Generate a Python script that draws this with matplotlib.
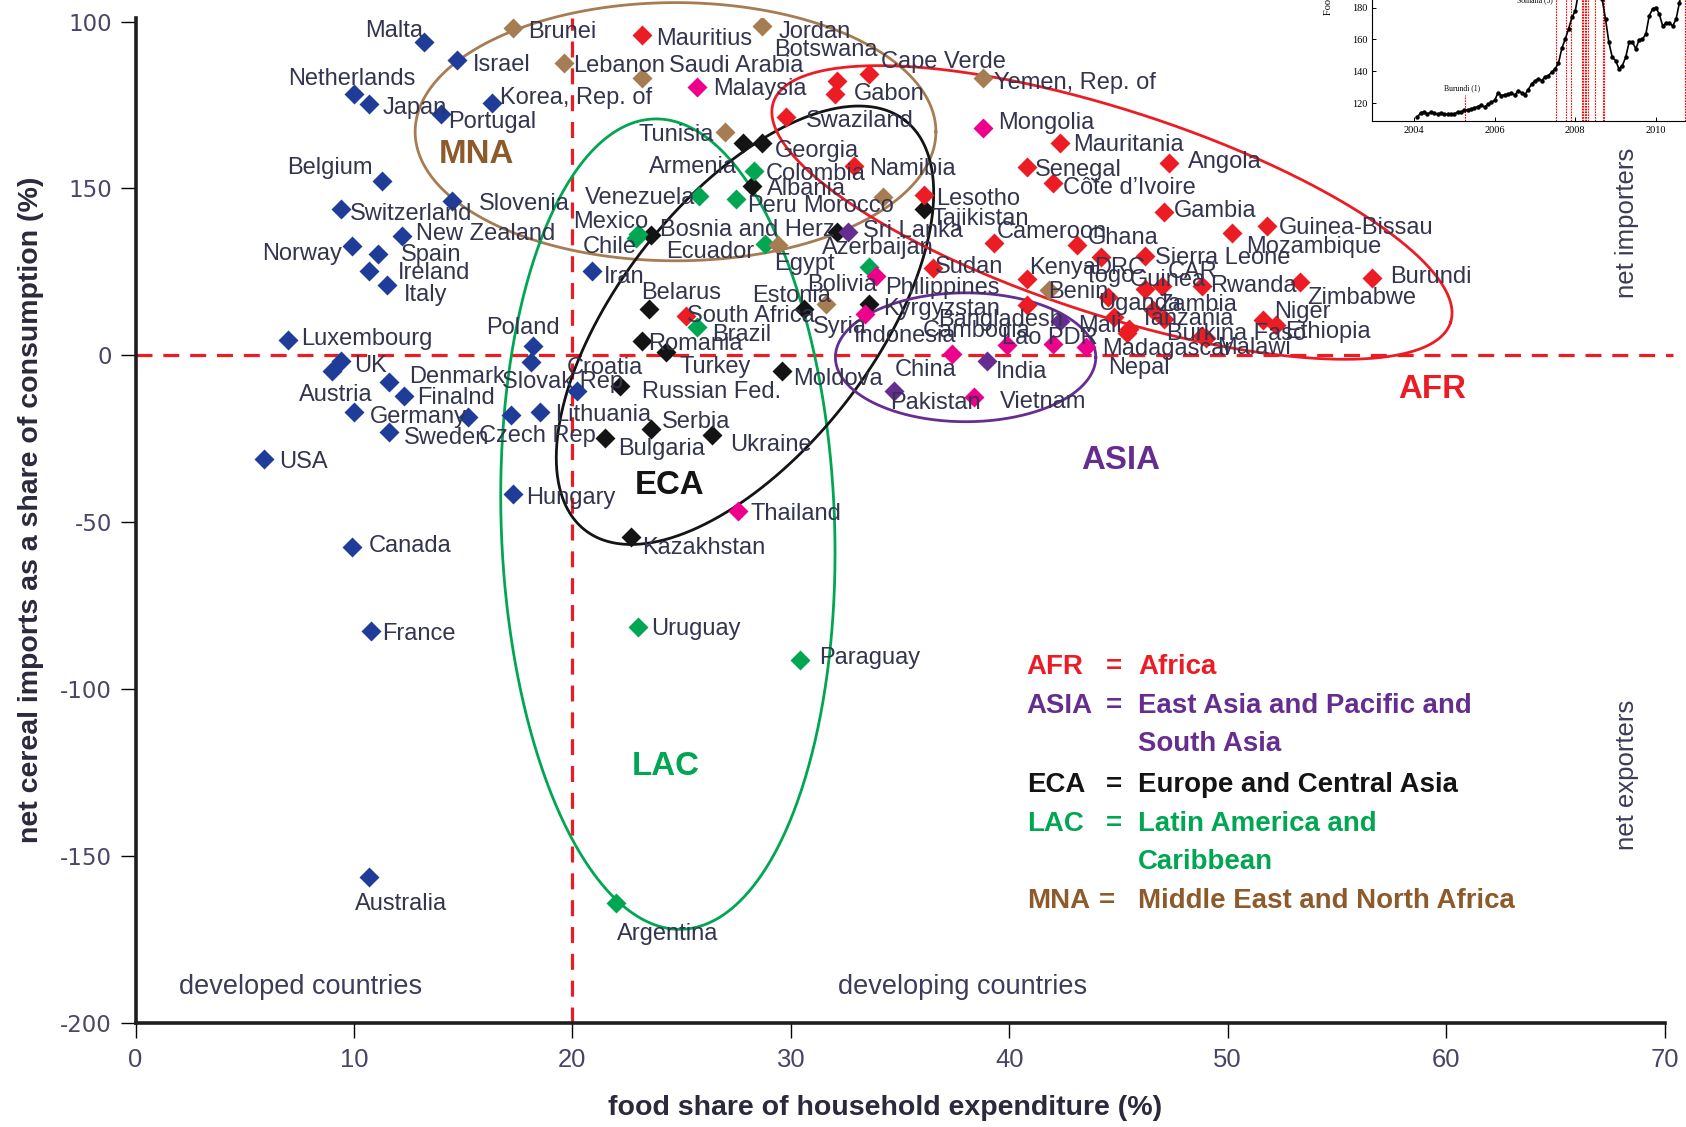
"""
Food share of household expenditure vs. net cereal imports, by region,
with the food price index inset cut at the top right corner.
Output: out.png
"""
import numpy as np
import matplotlib.pyplot as plt
from matplotlib import font_manager

# ---------------------------------------------------------------- data
# x = food share of household expenditure (%), y = net cereal imports (% of consumption)
DEV_NAMES = ["Malta", "Israel", "Netherlands", "Japan", "Korea, Rep. of", "Portugal",
             "Belgium", "Slovenia", "Switzerland", "New Zealand", "Norway", "Spain",
             "Ireland", "Italy", "Iran", "Luxembourg", "Poland", "Slovak Rep", "Croatia",
             "UK", "Austria", "Denmark", "Finalnd", "Germany", "Sweden", "Czech Rep",
             "Latvia", "Lithuania", "USA", "Hungary", "Canada", "France", "Australia"]
DEV_X = [13.2, 14.7, 10.0, 10.7, 16.3, 14.0, 11.3, 14.5, 9.4, 12.2, 9.9, 11.1, 10.7, 11.5,
         20.9, 7.0, 18.2, 18.1, 20.2, 9.4, 9.0, 11.6, 12.3, 10.0, 11.6, 15.2, 17.2, 18.5,
         5.9, 17.3, 9.9, 10.8, 10.7]
DEV_Y = [93.8, 88.6, 78.4, 75.4, 75.5, 72.3, 52.1, 46.2, 43.8, 35.8, 32.8, 30.4, 25.4, 21.2,
         25.4, 4.7, 2.9, -2.1, -10.6, -1.6, -4.6, -8.1, -12.2, -17.1, -23.1, -18.4, -18.0,
         -17.1, -31.1, -41.5, -57.4, -82.5, -156.3]

ECA_NAMES = ["Armenia", "Georgia", "Albania", "Bosnia and Herz", "Azerbaijan", "Tajikistan",
             "Belarus", "Estonia", "Kyrgyzstan", "Romania", "Turkey", "Russian Fed.",
             "Moldova", "Serbia", "Bulgaria", "Ukraine", "Kazakhstan"]
ECA_X = [27.8, 28.7, 28.2, 23.6, 32.1, 36.1, 23.5, 30.6, 33.6, 23.2, 24.3, 22.2, 29.6,
         23.6, 21.5, 26.4, 22.7]
ECA_Y = [63.7, 63.7, 50.8, 35.9, 37.0, 43.7, 13.9, 14.0, 15.4, 4.4, 0.9, -9.3, -4.6,
         -22.1, -24.7, -24.0, -54.5]

LAC_NAMES = ["Colombia", "Venezuela", "Peru", "Mexico", "Chile", "Ecuador", "Bolivia",
             "Brazil", "Uruguay", "Paraguay", "Argentina"]
LAC_X = [28.3, 25.8, 27.5, 23.0, 22.9, 28.8, 33.6, 25.7, 23.0, 30.4, 22.0]
LAC_Y = [55.2, 47.6, 46.8, 36.4, 35.1, 33.4, 26.6, 8.4, -81.3, -91.3, -164.2]

MNA_NAMES = ["Brunei", "Lebanon", "Saudi Arabia", "Jordan", "Tunisia", "Morocco", "Egypt",
             "Syria", "Yemen, Rep. of", "Djibouti"]
MNA_X = [17.3, 19.6, 23.2, 28.7, 27.0, 34.2, 29.4, 31.6, 38.8, 41.8]
MNA_Y = [98.1, 87.5, 83.0, 98.8, 66.8, 47.4, 32.9, 15.3, 83.0, 19.5]

AFR_NAMES = ["Mauritius", "Cape Verde", "Botswana", "Gabon", "Swaziland", "Namibia",
             "Lesotho", "Sudan", "South Africa", "Mauritania", "Senegal", "Côte d’Ivoire",
             "Angola", "Gambia", "Mozambique", "Guinea-Bissau", "Cameroon", "Ghana", "DRC",
             "Sierra Leone", "Kenya", "Benin", "Togo", "Guinea", "CAR", "Rwanda",
             "Zimbabwe", "Burundi", "Zambia", "Tanzania", "Uganda", "Mali", "Madagascar",
             "Burkina Faso", "Malawi", "Niger", "Ethiopia"]
AFR_X = [23.2, 33.6, 32.1, 32.0, 29.8, 32.9, 36.1, 36.5, 25.2, 42.3, 40.8, 42.0, 47.3,
         47.1, 50.2, 51.8, 39.3, 43.1, 44.2, 46.2, 40.8, 40.8, 44.5, 46.2, 47.0, 48.8,
         53.3, 56.6, 46.6, 47.1, 44.8, 45.5, 45.4, 48.8, 49.0, 51.6, 52.2]
AFR_Y = [96.0, 84.4, 82.3, 78.3, 71.3, 56.8, 47.9, 26.3, 11.9, 63.5, 56.3, 51.5, 57.5,
         42.8, 36.7, 38.7, 33.5, 33.0, 29.4, 29.9, 22.9, 15.1, 17.4, 19.9, 20.9, 20.9,
         21.9, 23.2, 13.7, 11.0, 11.4, 7.8, 6.8, 5.9, 5.2, 10.6, 9.2]

EAP_NAMES = ["Malaysia", "Mongolia", "Philippines", "Indonesia", "China", "Cambodia",
             "Lao PDR", "Nepal", "Vietnam", "Thailand"]
EAP_X = [25.7, 38.8, 33.9, 33.4, 37.4, 39.9, 42.0, 43.5, 38.4, 27.6]
EAP_Y = [80.3, 68.1, 23.9, 12.4, 0.5, 3.1, 3.4, 2.4, -12.6, -46.7]

SAS_NAMES = ["Sri Lanka", "Bangladesh", "India", "Pakistan"]
SAS_X = [32.6, 42.3, 39.0, 34.7]
SAS_Y = [37.0, 10.4, -1.8, -10.6]

Y_TICKS = [100, 50, 0, -50, -100, -150, -200]
Y_TICK_LABELS = ["100", "150", "0", "-50", "-100", "-150", "-200"]  # as printed
X_TICKS = [0, 10, 20, 30, 40, 50, 60, 70]

LEGEND_ABBR = ["AFR", "ASIA", "", "ECA", "LAC", "", "MNA"]
LEGEND_TEXT = ["Africa", "East Asia and Pacific and", "South Asia",
               "Europe and Central Asia", "Latin America and", "Caribbean",
               "Middle East and North Africa"]

# food price index inset (monthly, Feb 2004 - Sep 2010)
FPI_VALUES = [111.2, 114.0, 114.4, 113.3, 114.4, 113.8, 113.0, 113.8, 113.0, 112.9, 113.3,
              113.3, 114.4, 114.6, 115.4, 115.8, 116.5, 117.0, 117.9, 118.8, 117.5, 119.2, 120.5,
              121.7, 126.5, 124.8, 125.3, 125.8, 126.3, 125.0, 127.9, 126.5, 125.3, 128.5, 132.1,
              134.0, 135.2, 134.2, 136.5, 137.3, 139.5, 141.5, 145.2, 154.4, 160.2, 166.5, 173.8,
              177.9, 190.0, 205.0, 212.0, 215.0, 223.0, 218.0, 200.0, 185.2, 172.7, 158.1, 148.8,
              146.7, 141.5, 143.5, 148.8, 158.1, 158.5, 154.0, 159.8, 160.2, 163.3, 174.8, 179.0,
              180.0, 175.8, 168.5, 170.2, 170.2, 168.5, 172.7, 183.1, 195.0]
FPI_YEARS = [2004 + (i + 1) / 12 for i in range(len(FPI_VALUES))]
RIOT_YEARS = [2007.52, 2007.78, 2007.90, 2008.16, 2008.20, 2008.24, 2008.27, 2008.32,
              2008.49, 2008.68, 2008.70, 2010.71]
BURUNDI_YEAR = 2005.27

# ---------------------------------------------------------------- style
RED, BLUE, GREEN, BROWN = "#ec1c24", "#1f3c98", "#00a651", "#a67c52"
BLACK, MAGENTA, PURPLE = "#141414", "#ec008c", "#662d91"
TXT = "#33344e"

fonts = {f.name for f in font_manager.fontManager.ttflist}
HAS_NARROW = "Liberation Sans Narrow" in fonts
NARROW = ["Liberation Sans Narrow", "Liberation Sans", "DejaVu Sans"]
NS = 1.0 if HAS_NARROW else 0.82   # shrink if no condensed face

plt.rcParams["font.family"] = ["Liberation Sans", "DejaVu Sans"]

# label offsets from the marker, in reference pixels (dx right, dy down)
LABEL_OFFSETS = {
    "Malta": (-55, -13), "Israel": (15, 3), "Netherlands": (-61, -16), "Japan": (12, 2),
    "Korea, Rep. of": (8, -7), "Portugal": (6, 5), "Belgium": (-89, -15), "Slovenia": (25, 0),
    "Switzerland": (8, 2), "New Zealand": (13, -4), "Norway": (-83, 5), "Spain": (21, -1),
    "Ireland": (27, 0), "Italy": (16, 7), "Iran": (11, 4), "Luxembourg": (12, -3),
    "Poland": (-44, -19), "Slovak Rep": (-27, 16), "Croatia": (-9, -23), "UK": (12, 3),
    "Austria": (-31, 20), "Denmark": (19, -7), "Finalnd": (12, 0), "Germany": (15, 2),
    "Sweden": (14, 3), "Czech Rep": (11, 16), "Lithuania": (14, 0), "USA": (14, 0),
    "Hungary": (12, 2), "Canada": (16, -3), "France": (10, 1), "Australia": (-13, 23),
    "Armenia": (-87, 20), "Georgia": (12, 5), "Albania": (14, 1), "Bosnia and Herz": (8, -7),
    "Azerbaijan": (-14, 13), "Tajikistan": (7, 7), "Belarus": (-7, -17), "Estonia": (-48, -14),
    "Kyrgyzstan": (13, 2), "Romania": (5, 1), "Turkey": (12, 11), "Russian Fed.": (20, 3),
    "Moldova": (10, 5), "Serbia": (10, -9), "Bulgaria": (12, 8), "Ukraine": (17, 7),
    "Kazakhstan": (10, 8),
    "Colombia": (11, 0), "Venezuela": (-106, -1), "Peru": (10, 4), "Mexico": (-60, -13),
    "Chile": (-49, 6), "Ecuador": (-92, 5), "Bolivia": (-58, 15), "Brazil": (14, 5),
    "Uruguay": (12, 0), "Paraguay": (18, -4), "Argentina": (1, 26),
    "Brunei": (14, 1), "Lebanon": (9, 0), "Saudi Arabia": (25, -14), "Jordan": (15, 4),
    "Tunisia": (-81, 0), "Morocco": (-74, 6), "Egypt": (-3, 15), "Syria": (-12, 19),
    "Yemen, Rep. of": (10, 2),
    "Mauritius": (13, 1), "Botswana": (-58, -31), "Cape Verde": (11, -13), "Gabon": (18, -2),
    "Swaziland": (18, 1), "Namibia": (14, 1), "Lesotho": (11, 1), "Sudan": (2, -3),
    "South Africa": (1, -2), "Mauritania": (13, -1), "Senegal": (8, 0),
    "Côte d’Ivoire": (9, 2), "Angola": (18, -4), "Gambia": (9, -4), "Guinea-Bissau": (11, -1),
    "Mozambique": (13, 11), "Cameroon": (3, -13), "Ghana": (10, -9), "Kenya": (2, -12),
    "DRC": (-6, 8), "Sierra Leone": (10, 0), "Benin": (20, -14), "Togo": (-22, -22),
    "Guinea": (-14, -11), "CAR": (5, -15), "Rwanda": (8, -2), "Zimbabwe": (7, 12),
    "Burundi": (17, -3), "Zambia": (4, -7), "Tanzania": (-23, -2), "Uganda": (-15, -15),
    "Mali": (-48, -5), "Madagascar": (-23, 13), "Burkina Faso": (-32, -4), "Malawi": (10, 7),
    "Niger": (11, -10), "Ethiopia": (9, 5),
    "Malaysia": (15, -1), "Mongolia": (14, -7), "Philippines": (8, 9), "Indonesia": (-10, 18),
    "China": (-54, 13), "Cambodia": (-78, -15), "Lao PDR": (-47, -8), "Nepal": (21, 17),
    "Vietnam": (24, 2), "Thailand": (11, 0),
    "Sri Lanka": (14, -3), "Bangladesh": (-113, -3), "India": (8, 8), "Pakistan": (-3, 9),
}

# group ellipses: centre (data), semi-axes in x units (drawn isotropically), angle in degrees
ELLIPSES = [
    (24.72, 67.0, 11.92, 5.91, 0, BROWN),    # MNA
    (24.37, -50.6, 7.63, 18.56, 2, GREEN),   # LAC
    (27.9, 9.0, 11.9, 5.81, 52, BLACK),      # ECA
    (44.7, 42.8, 16.3, 4.68, -18, RED),      # AFR
    (38.0, -0.6, 5.96, 2.95, 0, PURPLE),     # ASIA
]

# ---------------------------------------------------------------- figure
W, H = 16.86, 11.27
fig = plt.figure(figsize=(W, H), dpi=100)
AX_POS = [0.0804, 0.0926, 0.9069, 0.8912]
ax = fig.add_axes(AX_POS)
XLIM, YLIM = (0, 70), (-200, 101)
ax.set_xlim(*XLIM)
ax.set_ylim(*YLIM)

for s in ["top", "right"]:
    ax.spines[s].set_visible(False)
for s in ["left", "bottom"]:
    ax.spines[s].set_linewidth(2.6)
    ax.spines[s].set_color("#1e1e1e")

ax.set_xticks(X_TICKS)
ax.set_yticks(Y_TICKS)
ax.set_yticklabels(Y_TICK_LABELS)
ax.tick_params(axis="x", length=11, width=1.0, pad=7, labelsize=22.5 * NS, labelcolor="#474466")
ax.tick_params(axis="y", length=11, width=1.0, pad=6, labelsize=16.5, labelcolor="#4b4668")
for lab in ax.get_xticklabels():
    lab.set_family(NARROW)
for lab in ax.get_yticklabels():
    lab.set_family("DejaVu Sans")

# threshold lines
dash = (0, (5, 3.4))
ax.plot([20, 20], [YLIM[0], YLIM[1]], color=RED, lw=2.3, ls=dash, zorder=1)
ax.plot([0, 70.4], [0, 0], color=RED, lw=2.3, ls=dash, zorder=1, clip_on=False)

# ellipses drawn with equal pixel scaling on both axes
ax_w = AX_POS[2] * W * 100
ax_h = AX_POS[3] * H * 100
k = (ax_h / (YLIM[1] - YLIM[0])) / (ax_w / (XLIM[1] - XLIM[0]))
t = np.linspace(0, 2 * np.pi, 500)
for cx, cy, a, b, ang, col in ELLIPSES:
    th = np.deg2rad(ang)
    ex = a * np.cos(t) * np.cos(th) - b * np.sin(t) * np.sin(th)
    ey = a * np.cos(t) * np.sin(th) + b * np.sin(t) * np.cos(th)
    ax.plot(cx + ex, cy + ey / k, color=col, lw=2.0, zorder=2, clip_on=False)

# markers + labels
groups = [
    (DEV_NAMES, DEV_X, DEV_Y, BLUE),
    (ECA_NAMES, ECA_X, ECA_Y, BLACK),
    (LAC_NAMES, LAC_X, LAC_Y, GREEN),
    (MNA_NAMES, MNA_X, MNA_Y, BROWN),
    (AFR_NAMES, AFR_X, AFR_Y, RED),
    (EAP_NAMES, EAP_X, EAP_Y, MAGENTA),
    (SAS_NAMES, SAS_X, SAS_Y, PURPLE),
]
PX = 1686 / 1568
for names, xs, ys, col in groups:
    ax.plot(xs, ys, ls="none", marker="D", ms=10, color=col, mec="none", zorder=4)
    for name, x, y in zip(names, xs, ys):
        if name not in LABEL_OFFSETS:
            continue
        dx, dy = LABEL_OFFSETS[name]
        ax.annotate(name, (x, y), xytext=(dx * PX, -dy * PX), textcoords="offset pixels",
                    ha="left", va="center_baseline", fontsize=17, color=TXT, zorder=5)

# region tags
for txt, x, y, col in [("MNA", 13.9, 61.2, "#8c5a2b"), ("ECA", 22.85, -38.0, BLACK),
                       ("LAC", 22.7, -122.1, GREEN), ("AFR", 57.8, -9.3, RED),
                       ("ASIA", 43.3, -30.6, PURPLE)]:
    ax.text(x, y, txt, color=col, fontsize=29 * NS, fontweight="bold", family=NARROW,
            ha="left", va="center_baseline", zorder=5)

# legend block
leg_cols = [RED, PURPLE, PURPLE, BLACK, GREEN, GREEN, "#8c5a2b"]
leg_y = [-92.5, -104.1, -115.7, -127.9, -139.5, -151.1, -162.7]
for abbr, desc, col, y in zip(LEGEND_ABBR, LEGEND_TEXT, leg_cols, leg_y):
    kw = dict(color=col, fontsize=24.3 * NS, fontweight="bold", family=NARROW,
              va="center_baseline", ha="left")
    if abbr:
        ax.text(40.8, y, abbr, **kw)
        ax.text(44.4 if abbr != "MNA" else 44.1, y, "=", **kw)
    ax.text(45.9, y, desc, **kw)

# side notes
note = dict(color="#3c3c58", fontsize=19.5, va="center_baseline")
ax.text(2.0, -188.5, "developed countries", ha="left", **note)
ax.text(32.15, -188.5, "developing countries", ha="left", **note)
ax.text(68.3, 39.6, "net importers", rotation=90, ha="center", color="#3c3c58",
        fontsize=18.5, va="center")
ax.text(68.3, -125.6, "net exporters", rotation=90, ha="center", color="#3c3c58",
        fontsize=18.5, va="center")

fig.text(0.0185, 0.5477, "net cereal imports as a share of consumption (%)", rotation=90,
         ha="center", va="center", fontsize=20.5, fontweight="bold", color="#2a2a3c")
fig.text(0.525, 0.0172, "food share of household expenditure (%)", ha="center",
         va="center", fontsize=20.5, fontweight="bold", color="#2a2a3c")

# ---------------------------------------------------------------- inset
SERIF = ["Liberation Serif", "DejaVu Serif"]
ins = fig.add_axes([0.8138, 0.8922, 0.204, 0.186])
ins.set_facecolor("white")
ins.set_xlim(2002.96, 2011.49)
ins.set_ylim(108.5, 240)
for yr in RIOT_YEARS:
    ins.plot([yr, yr], [108.5, 240], color="red", lw=0.8, ls=(0, (1.5, 1)), zorder=1)
ins.plot([BURUNDI_YEAR, BURUNDI_YEAR], [108.5, 125], color="red", lw=0.8,
         ls=(0, (1.5, 1)), zorder=1)
ins.plot(FPI_YEARS, FPI_VALUES, "-o", color="black", lw=1.2, ms=2.2, zorder=2)
ins.set_xticks([2004, 2006, 2008, 2010])
ins.set_yticks([120, 140, 160, 180, 200, 220])
ins.tick_params(direction="in", length=3, width=0.7, labelsize=7.5, pad=3)
for lab in ins.get_xticklabels() + ins.get_yticklabels():
    lab.set_family(SERIF)
for s in ["top", "right"]:
    ins.spines[s].set_visible(False)
for s in ["left", "bottom"]:
    ins.spines[s].set_linewidth(0.8)
ins.set_ylabel("Food Price Index", family=SERIF, fontsize=7.5)
ins.yaxis.set_label_coords(-0.115, 0.68)
ins.text(2005.2, 129.5, "Burundi (1)", family=SERIF, fontsize=5.5, ha="center", va="center")
ins.text(2007.45, 184.5, "Somalia (5)", family=SERIF, fontsize=5.5, ha="right", va="center")

fig.savefig("out.png", dpi=100, facecolor="white")
